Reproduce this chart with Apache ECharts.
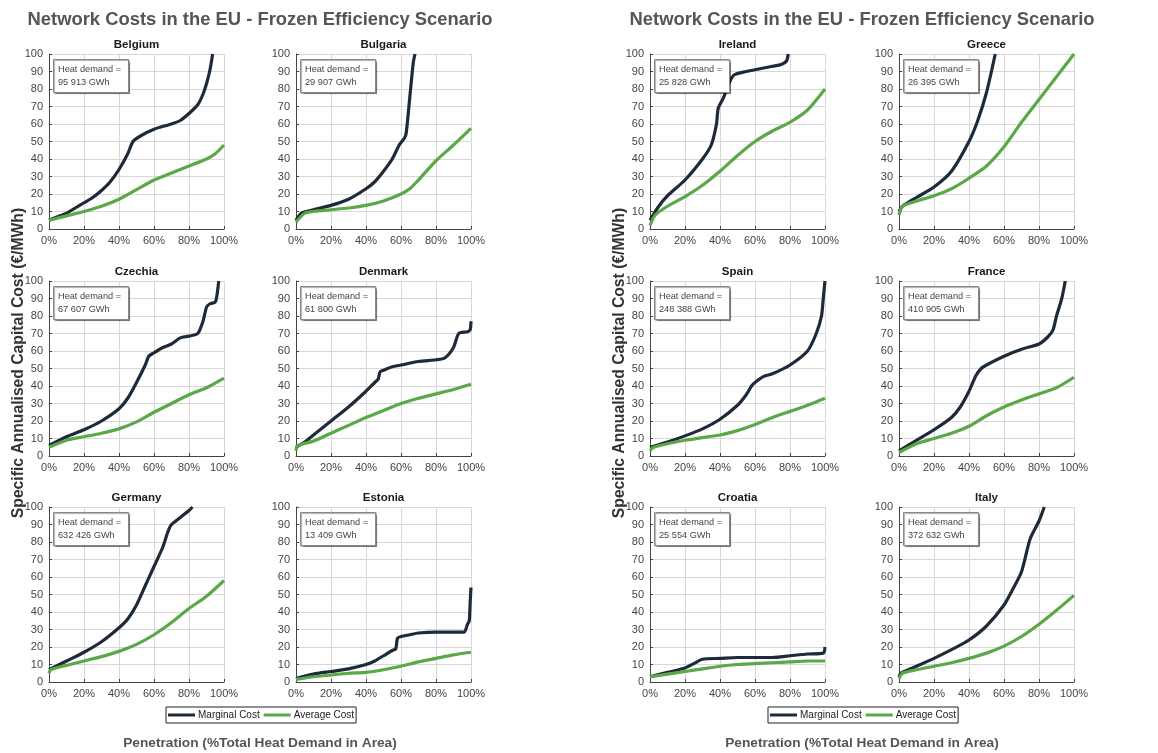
<!DOCTYPE html>
<html>
<head>
<meta charset="utf-8">
<script src="https://cdn.jsdelivr.net/npm/echarts@6/dist/echarts.min.js"></script>
<style>
html,body{margin:0;padding:0;background:#fff;}
#main{width:1158px;height:753px;}
</style>
</head>
<body>
<div id="main"></div>
<script>
// ---------------- DATA ----------------
const mainTitle = 'Network Costs in the EU - Frozen Efficiency Scenario';
const yAxisTitle = 'Specific Annualised Capital Cost (€/MWh)';
const xAxisTitle = 'Penetration (%Total Heat Demand in Area)';
const seriesNames = ['Marginal Cost', 'Average Cost'];
const xTickValues = [0, 20, 40, 60, 80, 100];
const yTickValues = [0, 10, 20, 30, 40, 50, 60, 70, 80, 90, 100];

const countries = ['Belgium', 'Bulgaria', 'Czechia', 'Denmark', 'Germany', 'Estonia',
                   'Ireland', 'Greece', 'Spain', 'France', 'Croatia', 'Italy'];
const heatDemand = ['95 913 GWh', '29 907 GWh', '67 607 GWh', '61 800 GWh', '632 426 GWh', '13 409 GWh',
                    '25 828 GWh', '26 395 GWh', '248 388 GWh', '410 905 GWh', '25 554 GWh', '372 632 GWh'];

const belgiumMarginal = [[0,5],[5,7],[10,9],[15,12],[20,15],[25,18],[30,22],[35,27],[40,34],[45,43],[48,50],[52,53],[60,57],[70,60],[75,62],[80,66],[85,71],[88,77],[90,83],[92,91],[93.5,100]];
const belgiumAverage  = [[0,5],[10,7.5],[20,10],[30,13],[40,17],[50,22.5],[60,28],[70,32],[80,36],[90,40],[95,43],[100,48]];
const bulgariaMarginal = [[0,5],[3,9],[10,11],[20,13.5],[30,17],[40,23],[45,27],[50,33],[55,40],[59,48],[62,52],[63,55],[65,75],[67,95],[68,100]];
const bulgariaAverage  = [[0,4],[5,9],[10,10],[20,11],[30,12],[40,13.5],[50,16],[60,20],[65,23],[70,28],[80,39],[90,48],[100,57.5]];
const czechiaMarginal = [[0,6],[10,11],[20,15],[30,20],[40,27],[45,33],[50,42],[55,52],[57,57],[60,59],[65,62],[70,64],[75,67.5],[80,68.5],[85,70],[88,77],[90,85],[92,87],[95,88],[96,92],[97,100]];
const czechiaAverage  = [[0,5],[10,9],[20,11],[30,13],[40,15.5],[50,19.5],[60,25],[70,30],[80,35],[90,39],[100,44.5]];
const denmarkMarginal = [[0,5],[5,8],[10,12],[20,20],[30,28],[40,37],[45,42],[47,44],[48,48],[50,49],[55,51],[60,52],[70,54],[80,55],[85,56],[90,62],[93,70],[98,71],[99.5,72],[100,77]];
const denmarkAverage  = [[0,3],[1,6],[10,8.5],[20,13],[30,17.5],[40,22],[50,26],[60,30],[70,33],[80,35.5],[90,38],[100,41]];
const germanyMarginal = [[0,7],[10,12],[20,17],[30,23],[40,31],[45,36],[50,44],[55,55],[60,66],[65,77],[68,86],[70,90],[75,94],[80,98],[82,100]];
const germanyAverage  = [[0,5],[1,7],[10,9.5],[20,12],[30,14.5],[40,17.5],[50,21.5],[60,27],[70,34],[80,42],[90,49],[100,58]];
const estoniaMarginal = [[0,2],[10,4.5],[20,6],[30,7.5],[40,10],[45,12],[50,15],[55,18],[57,19],[58,25],[60,26],[65,27],[70,28],[80,28.5],[90,28.5],[96,28.5],[98,33],[99,35],[99.5,45],[100,54]];
const estoniaAverage  = [[0,1.5],[10,3],[20,4],[30,5],[40,5.5],[50,7],[60,9],[70,11.5],[80,13.5],[90,15.5],[100,17]];
const irelandMarginal = [[0,5],[5,13],[10,19],[20,28],[30,40],[35,48],[38,60],[39,69],[42,75],[45,83],[48,88],[55,90],[60,91],[70,93],[75,94],[78,96],[79,100]];
const irelandAverage  = [[0,2],[3,8],[10,13],[20,18.5],[30,25],[40,33],[50,42],[60,50],[70,56],[80,61],[90,68],[100,80]];
const greeceMarginal = [[0,10],[2,13],[10,18],[20,24],[30,33],[40,50],[45,62],[50,78],[55,100]];
const greeceAverage  = [[0,8],[2,13],[10,16],[20,19],[30,23],[40,29],[50,36],[60,47],[70,61],[80,74],[90,87],[100,100]];
const spainMarginal = [[0,5],[10,8],[20,11.5],[30,15.5],[40,21],[50,29],[55,35],[58,40],[60,42],[65,45.5],[70,47],[80,52],[90,60],[95,70],[98,80],[99,90],[100,100]];
const spainAverage  = [[0,3],[2,5],[10,7],[20,9],[30,10.5],[40,12],[50,14.5],[60,18],[70,22],[80,25.5],[90,29],[100,33]];
const franceMarginal = [[0,3],[10,9],[20,15],[30,22],[35,28],[40,37],[44,46],[47,50],[50,52],[60,57],[70,61],[80,64],[85,68],[88,72],[90,80],[93,90],[95,100]];
const franceAverage  = [[0,2],[10,7],[20,10],[30,13],[40,17],[50,23],[60,28],[70,32],[80,35.5],[90,39],[100,45]];
const croatiaMarginal = [[0,3],[10,5.5],[20,8],[25,10.5],[30,13],[40,13.5],[50,14],[60,14],[70,14],[80,15],[90,16],[99,16.5],[100,20]];
const croatiaAverage  = [[0,3],[10,4.5],[20,6],[30,7.5],[40,9],[50,10],[60,10.5],[70,11],[80,11.5],[90,12],[100,12]];
const italyMarginal = [[0,3],[1,5],[10,9],[20,13.5],[30,18.5],[40,24],[50,32],[60,44],[65,53],[70,63],[75,82],[80,92],[83,100]];
const italyAverage  = [[0,2],[2,5],[10,7],[20,9],[30,11],[40,13.5],[50,16.5],[60,20.5],[70,26],[80,33],[90,41],[100,49.5]];

const marginalData = [belgiumMarginal, bulgariaMarginal, czechiaMarginal, denmarkMarginal, germanyMarginal, estoniaMarginal,
                      irelandMarginal, greeceMarginal, spainMarginal, franceMarginal, croatiaMarginal, italyMarginal];
const averageData = [belgiumAverage, bulgariaAverage, czechiaAverage, denmarkAverage, germanyAverage, estoniaAverage,
                     irelandAverage, greeceAverage, spainAverage, franceAverage, croatiaAverage, italyAverage];

// ---------------- LAYOUT ----------------
const FONT = '"Liberation Sans", Arial, Helvetica, sans-serif';
const colLeft = [49, 296, 650, 899];
const rowTop = [54, 281, 507];
const PW = 175, PH = 175;
const panelCenters = [260, 862];
const cMarg = '#1d2a3a', cAvg = '#5aa848';

const grids = [], xAxes = [], yAxes = [], series = [], titles = [];

countries.forEach((name, i) => {
  const panel = i < 6 ? 0 : 1;
  const k = i % 6;
  const r = Math.floor(k / 2), c = (k % 2) + panel * 2;
  const left = colLeft[c], top = rowTop[r];
  grids.push({left: left, top: top, width: PW, height: PH, containLabel: false});
  xAxes.push({
    type: 'value', gridIndex: i, min: 0, max: 100, interval: 20,
    axisLine: {show: true, lineStyle: {color: '#444', width: 1}},
    axisTick: {show: true, inside: true, length: 3, lineStyle: {color: '#444'}},
    splitLine: {show: true, lineStyle: {color: '#d8d8d8', width: 1}},
    axisLabel: {color: '#444', fontSize: 11, fontFamily: FONT, margin: 6,
      formatter: v => xTickValues.includes(v) ? v + '%' : ''}
  });
  yAxes.push({
    type: 'value', gridIndex: i, min: 0, max: 100, interval: 10,
    axisLine: {show: true, lineStyle: {color: '#444', width: 1}},
    axisTick: {show: true, inside: true, length: 3, lineStyle: {color: '#444'}},
    splitLine: {show: true, lineStyle: {color: '#d8d8d8', width: 1}},
    axisLabel: {color: '#444', fontSize: 11, fontFamily: FONT, margin: 6,
      formatter: v => yTickValues.includes(v) ? String(v) : ''}
  });
  series.push({
    name: seriesNames[0], type: 'line', xAxisIndex: i, yAxisIndex: i,
    data: marginalData[i], showSymbol: false, smooth: 0.25, clip: true,
    lineStyle: {color: cMarg, width: 3.2}, itemStyle: {color: cMarg}, z: 3
  });
  series.push({
    name: seriesNames[1], type: 'line', xAxisIndex: i, yAxisIndex: i,
    data: averageData[i], showSymbol: false, smooth: 0.25, clip: true,
    lineStyle: {color: cAvg, width: 3.2}, itemStyle: {color: cAvg}, z: 3
  });
  titles.push({
    text: name, left: left + PW / 2, top: top - 15, textAlign: 'center', padding: 0,
    textStyle: {fontSize: 11.5, fontWeight: 'bold', color: '#1a1a1a', fontFamily: FONT}
  });
  titles.push({
    text: 'Heat demand =\n' + heatDemand[i], left: left + 4, top: top + 5,
    padding: [4, 8, 4, 5], backgroundColor: '#fff', borderColor: '#888', borderWidth: 1,
    shadowColor: 'rgba(0,0,0,0.35)', shadowBlur: 1, shadowOffsetX: 1, shadowOffsetY: 1,
    textStyle: {fontSize: 9.2, fontWeight: 'normal', color: '#444', fontFamily: FONT, lineHeight: 13}
  });
});

panelCenters.forEach(cx => {
  titles.push({
    text: mainTitle, left: cx, top: 11, textAlign: 'center', padding: 0,
    textStyle: {fontSize: 18.4, fontWeight: 'bold', color: '#555', fontFamily: FONT}
  });
  titles.push({
    text: xAxisTitle, left: cx, top: 736, textAlign: 'center', padding: 0,
    textStyle: {fontSize: 13.7, fontWeight: 'bold', color: '#555', fontFamily: FONT}
  });
});

const legends = [166, 768].map(lx => ({
  data: seriesNames, left: lx, top: 707, orient: 'horizontal',
  icon: 'rect', itemWidth: 27, itemHeight: 3, itemGap: 4,
  padding: [3, 2, 3, 2], borderColor: '#222', borderWidth: 1, backgroundColor: '#fff',
  selectedMode: false,
  textStyle: {fontSize: 10, color: '#222', fontFamily: FONT, padding: [0, 0, 0, -2]}
}));

const graphics = [19, 620].map(gx => ({
  type: 'text', x: gx, y: 363, rotation: Math.PI / 2,
  style: {text: yAxisTitle, fill: '#333', fontSize: 15.7, fontWeight: 'bold', fontFamily: FONT,
          align: 'center', verticalAlign: 'middle'}
}));

const chart = echarts.init(document.getElementById('main'), null, {renderer: 'canvas'});
chart.setOption({
  backgroundColor: '#fff',
  animation: false,
  title: titles,
  legend: legends,
  grid: grids,
  xAxis: xAxes,
  yAxis: yAxes,
  series: series,
  graphic: graphics
});
</script>
</body>
</html>
